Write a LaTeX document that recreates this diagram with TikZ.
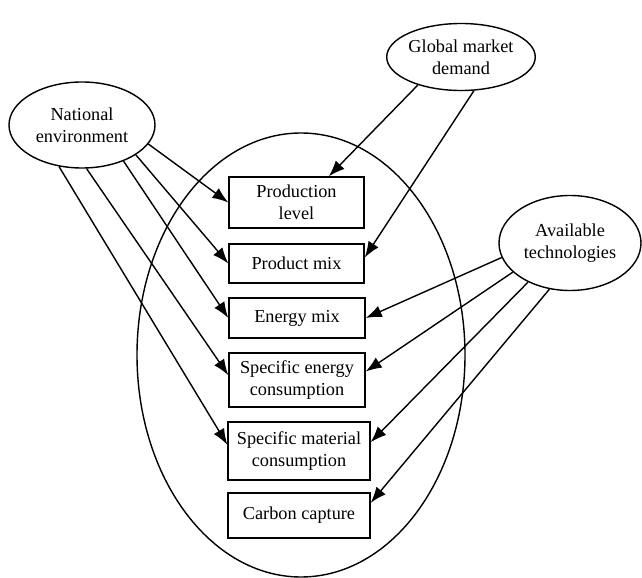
\documentclass[tikz,border=0pt]{standalone}
\usepackage{fontspec}
\setmainfont{Liberation Serif}
\usetikzlibrary{arrows.meta,shapes.geometric}

\begin{document}
\begin{tikzpicture}[
  font=\fontsize{13}{15.5}\selectfont,
  line width=1pt,
  >={Latex[length=4mm,width=3mm]},
  factor/.style={draw, ellipse, inner sep=0pt, align=center},
  lever/.style={draw, rectangle, inner sep=0pt, minimum width=3.375cm, align=center}
]
\useasboundingbox (0,0) rectangle (16.05,14.425);

\node [draw, ellipse, minimum width=8.2cm, minimum height=11.1cm] (Plant) at (7.525,5.55) {};

\node [factor, minimum width=3.65cm, minimum height=2.15cm] (National) at (2.05,11.3) {National\\environment};
\node [factor, minimum width=3.4cm, minimum height=1.675cm] (Global) at (11.525,13.0) {Global market\\demand};
\node [factor, minimum width=3.55cm, minimum height=2.375cm] (Available) at (14.25,8.35) {Available\\technologies};

\node [lever, minimum height=1.275cm] (Production) at (7.4125,9.3625) {Production\\level};
\node [lever, minimum height=0.975cm] (ProductMix) at (7.4125,7.8375) {Product mix};
\node [lever, minimum width=3.4cm, minimum height=1.0cm] (EnergyMix) at (7.425,6.475) {Energy mix};
\node [lever, minimum width=3.4cm, minimum height=1.35cm] (SpecEnergy) at (7.425,4.925) {Specific energy\\consumption};
\node [lever, minimum width=3.55cm, minimum height=1.45cm] (SpecMaterial) at (7.475,3.15) {Specific material\\consumption};
\node [lever, minimum width=3.55cm, minimum height=1.125cm] (Carbon) at (7.475,1.5375) {Carbon capture};

\draw [->] (National.-16) -- (Production.west);
\draw [->] (National.-29) -- (ProductMix.west);
\draw [->] (National.-41) -- (EnergyMix.west);
\draw [->] (National.-84) -- (SpecEnergy.176);
\draw [->] (National.-119) -- (SpecMaterial.175);

\draw [->] (Global.213) -- (Production.39);
\draw [->] (Global.-69) -- (ProductMix.5);

\draw [->] (Available.192) -- (EnergyMix.east);
\draw [->] (Available.207) -- (SpecEnergy.7);
\draw [->] (Available.223) -- (SpecMaterial.7);
\draw [->] (Available.246) -- (Carbon.10);

\end{tikzpicture}
\end{document}
